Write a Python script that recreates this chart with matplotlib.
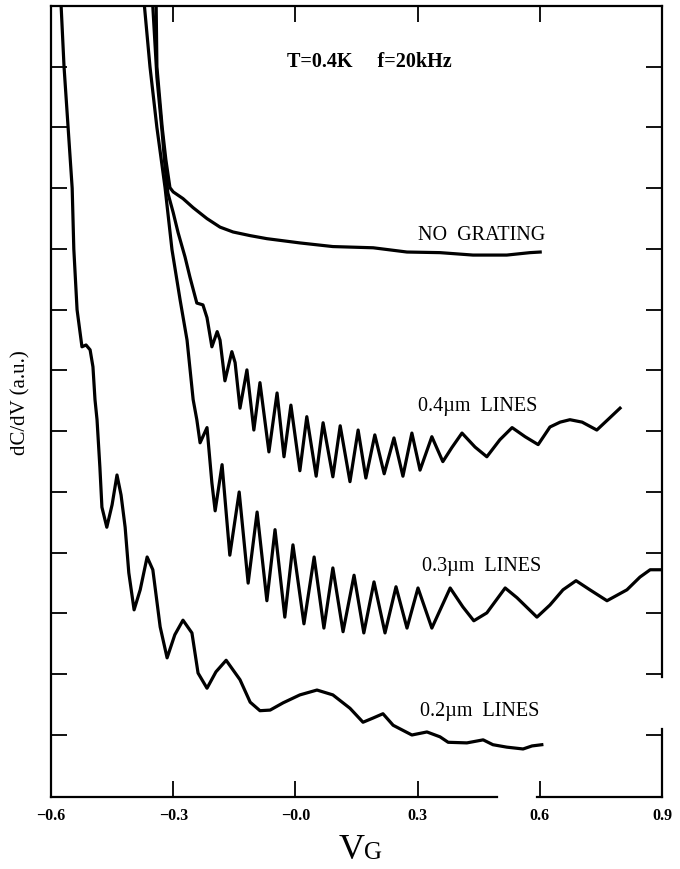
import matplotlib
matplotlib.use("Agg")
import matplotlib.pyplot as plt

# ---------------- data ----------------
# gate voltage VG (V) and dC/dV (arbitrary units, 1 unit = one y tick)
ng_v = [-0.342, -0.340, -0.327, -0.318, -0.308, -0.300, -0.276, -0.251, -0.217,
        -0.185, -0.153, -0.111, -0.070, 0.011, 0.092, 0.191, 0.274, 0.355,
        0.436, 0.519, 0.576, 0.601]
ng_y = [12.1, 11.0, 10.0, 9.47, 9.01, 8.94, 8.83, 8.68, 8.50,
        8.36, 8.28, 8.22, 8.17, 8.10, 8.04, 8.02, 7.95, 7.94,
        7.90, 7.90, 7.94, 7.95]

l04_v = [-0.354, -0.350, -0.340, -0.327, -0.320, -0.313, -0.300, -0.288, -0.271,
         -0.259, -0.242, -0.227, -0.217, -0.205, -0.192, -0.185, -0.173, -0.156,
         -0.148, -0.136, -0.119, -0.102, -0.087, -0.065, -0.045, -0.028, -0.011,
         0.011, 0.028, 0.051, 0.068, 0.092, 0.110, 0.134, 0.154, 0.173, 0.195,
         0.218, 0.242, 0.264, 0.286, 0.306, 0.335, 0.362, 0.384, 0.409, 0.441,
         0.470, 0.502, 0.532, 0.564, 0.596, 0.625, 0.650, 0.674, 0.704, 0.740,
         0.767, 0.797]
l04_y = [12.1, 11.99, 10.83, 9.91, 9.35, 8.92, 8.60, 8.27, 7.87,
         7.54, 7.11, 7.08, 6.87, 6.39, 6.64, 6.50, 5.83, 6.31,
         6.13, 5.38, 6.01, 5.02, 5.80, 4.66, 5.63, 4.58, 5.43,
         4.35, 5.24, 4.26, 5.14, 4.25, 5.09, 4.17, 5.02, 4.23, 4.94,
         4.30, 4.89, 4.26, 4.97, 4.36, 4.91, 4.50, 4.73, 4.97, 4.74,
         4.58, 4.86, 5.06, 4.91, 4.78, 5.07, 5.15, 5.19, 5.15, 5.02,
         5.19, 5.38]

l03_v = [-0.372, -0.357, -0.340, -0.320, -0.303, -0.283, -0.266, -0.251, -0.242,
         -0.234, -0.217, -0.205, -0.197, -0.180, -0.161, -0.138, -0.116, -0.094,
         -0.070, -0.050, -0.026, -0.006, 0.021, 0.046, 0.070, 0.092, 0.117,
         0.144, 0.168, 0.193, 0.220, 0.247, 0.274, 0.301, 0.335, 0.380, 0.411,
         0.438, 0.470, 0.515, 0.544, 0.593, 0.625, 0.657, 0.689, 0.723, 0.765,
         0.814, 0.846, 0.871, 0.900]
l03_y = [12.1, 11.0, 10.0, 9.01, 7.99, 7.16, 6.50, 5.52, 5.19,
         4.81, 5.06, 4.15, 3.69, 4.45, 2.96, 4.00, 2.50, 3.67,
         2.21, 3.38, 1.94, 3.13, 1.83, 2.93, 1.76, 2.75, 1.70,
         2.63, 1.68, 2.52, 1.68, 2.44, 1.76, 2.42, 1.76, 2.42, 2.11,
         1.88, 2.01, 2.42, 2.26, 1.94, 2.14, 2.39, 2.54, 2.39, 2.21,
         2.39, 2.60, 2.72, 2.72]

l02_v = [-0.578, -0.568, -0.558, -0.548, -0.544, -0.536, -0.524, -0.514, -0.504,
         -0.497, -0.492, -0.487, -0.480, -0.475, -0.463, -0.450, -0.438, -0.428,
         -0.418, -0.409, -0.396, -0.381, -0.364, -0.350, -0.332, -0.315, -0.296,
         -0.276, -0.254, -0.239, -0.217, -0.195, -0.170, -0.136, -0.111, -0.087,
         -0.062, -0.030, 0.011, 0.053, 0.092, 0.134, 0.166, 0.191, 0.215,
         0.240, 0.286, 0.323, 0.355, 0.375, 0.421, 0.461, 0.485, 0.519,
         0.559, 0.581, 0.605]
l02_y = [12.4, 11.0, 10.0, 9.0, 8.0, 7.0, 6.39, 6.42, 6.34,
         6.06, 5.52, 5.19, 4.41, 3.75, 3.42, 3.79, 4.28, 3.95,
         3.42, 2.67, 2.06, 2.39, 2.93, 2.72, 1.78, 1.27, 1.65,
         1.89, 1.68, 1.02, 0.77, 1.04, 1.23, 0.91, 0.54, 0.40,
         0.41, 0.53, 0.66, 0.74, 0.66, 0.44, 0.21, 0.28, 0.35,
         0.16, 0.00, 0.05, -0.03, -0.12, -0.13, -0.08, -0.16, -0.20,
         -0.23, -0.18, -0.16]

x_ticks = [-0.6, -0.3, 0.0, 0.3, 0.6, 0.9]
x_tick_labels = ["\u22120.6", "\u22120.3", "\u22120.0", "0.3", "0.6", "0.9"]
y_ticks = list(range(0, 12))

curve_labels = ["NO  GRATING", "0.4\u00b5m  LINES", "0.3\u00b5m  LINES", "0.2\u00b5m  LINES"]
label_v = [0.301, 0.301, 0.311, 0.306]
label_y = [8.23, 5.40, 2.77, 0.38]

# ---------------- figure ----------------
SERIF = ["Liberation Serif", "DejaVu Serif"]
fig = plt.figure(figsize=(6.8, 8.69), dpi=100)
ax = fig.add_axes([0.075, 0.0829, 0.8985, 0.9102])

for v, y in [(ng_v, ng_y), (l04_v, l04_y), (l03_v, l03_y), (l02_v, l02_y)]:
    ax.plot(v, y, color="black", lw=2.3, solid_joinstyle="round", clip_on=True)

ax.set_xlim(-0.6, 0.9)
ax.set_ylim(-1.02, 12.0)
ax.set_xticks(x_ticks)
ax.set_xticklabels(x_tick_labels, fontfamily=SERIF, fontweight="bold", fontsize=11.5)
ax.set_yticks(y_ticks)
ax.set_yticklabels([])
ax.tick_params(direction="in", length=11.5, width=1.3, top=True, right=True,
               pad=8, colors="black")

for s in ax.spines.values():
    s.set_linewidth(1.6)
# scanned original: bottom axis is broken near V=0.55, right axis near the bottom
ax.spines["bottom"].set_visible(False)
ax.spines["right"].set_visible(False)
xa = ax.get_xaxis_transform()
ya = ax.get_yaxis_transform()
ax.plot([-0.6, 0.495], [0, 0], transform=xa, color="black", lw=1.6, clip_on=False)
ax.plot([0.593, 0.9], [0, 0], transform=xa, color="black", lw=1.6, clip_on=False)
ax.plot([1, 1], [-1.02, 0.1], transform=ya, color="black", lw=1.6, clip_on=False)
ax.plot([1, 1], [0.95, 12.0], transform=ya, color="black", lw=1.6, clip_on=False)

for t, v, y in zip(curve_labels, label_v, label_y):
    ax.text(v, y, t, fontfamily=SERIF, fontsize=14.5, va="center", ha="left")

ax.text(-0.021, 11.07, "T=0.4K     f=20kHz", fontfamily=SERIF, fontsize=14.5,
        fontweight="bold", va="center", ha="left")

fig.text(0.030, 0.537, "dC/dV (a.u.)", rotation=90, fontfamily=SERIF,
         fontsize=15, ha="center", va="center")
fig.text(0.536, 0.012, "V", fontfamily=SERIF, fontsize=26, ha="right", va="baseline")
fig.text(0.536, 0.012, "G", fontfamily=SERIF, fontsize=18, ha="left", va="baseline")

fig.savefig("out.png", dpi=100)
